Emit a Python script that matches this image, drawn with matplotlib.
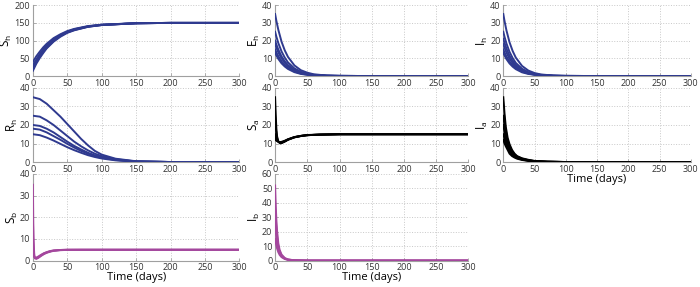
import matplotlib
matplotlib.use("Agg")
import numpy as np
import matplotlib.pyplot as plt

plt.rcParams['font.family'] = ['Open Sans', 'DejaVu Sans']

BLUE = '#2f3a8f'
BLACK = '#000000'
MAGENTA = '#a4479d'

# ---- data ----
sh_t = [0, 5, 10, 15, 20, 30, 40, 50, 60, 80, 100, 150, 200, 300]
sh_vals = [
    [15, 35, 51, 65, 78, 97, 111, 122, 129, 139, 144, 149, 150, 150],
    [20, 39, 55, 69, 80, 99, 113, 123, 130, 139, 144, 149, 150, 150],
    [25, 43, 58, 72, 83, 101, 114, 124, 131, 140, 144, 149, 150, 150],
    [30, 47, 62, 75, 86, 103, 116, 125, 132, 140, 145, 149, 150, 150],
    [40, 56, 69, 81, 91, 107, 118, 127, 133, 141, 145, 149, 150, 150],
]

eh_t = [0, 2, 5, 10, 15, 20, 30, 40, 50, 60, 80, 100, 150, 300]
eh_vals = [
    [35, 31.1, 26.1, 19.4, 14.5, 10.8, 6.0, 3.3, 1.9, 1.0, 0.3, 0.1, 0, 0],
    [25, 22.2, 18.6, 13.9, 10.4, 7.7, 4.3, 2.4, 1.3, 0.7, 0.2, 0.1, 0, 0],
    [20, 17.8, 14.9, 11.1, 8.3, 6.2, 3.4, 1.9, 1.1, 0.6, 0.2, 0.1, 0, 0],
    [18, 16.0, 13.4, 10.0, 7.5, 5.5, 3.1, 1.7, 1.0, 0.5, 0.2, 0.1, 0, 0],
    [15, 13.3, 11.2, 8.3, 6.2, 4.6, 2.6, 1.4, 0.8, 0.4, 0.1, 0, 0, 0],
    [13, 11.6, 9.7, 7.2, 5.4, 4.0, 2.2, 1.2, 0.7, 0.4, 0.1, 0, 0, 0],
]

ih_t = [0, 2, 5, 10, 15, 20, 30, 40, 50, 60, 80, 100, 150, 300]
ih_vals = [
    [35, 31.0, 25.8, 19.0, 14.1, 10.4, 5.7, 3.1, 1.7, 0.9, 0.3, 0.1, 0, 0],
    [25, 22.1, 18.4, 13.6, 10.1, 7.4, 4.1, 2.2, 1.2, 0.7, 0.2, 0.1, 0, 0],
    [21, 18.6, 15.5, 11.4, 8.5, 6.3, 3.4, 1.9, 1.0, 0.6, 0.2, 0.1, 0, 0],
    [18, 16.0, 13.3, 9.8, 7.3, 5.4, 3.0, 1.6, 0.9, 0.5, 0.1, 0, 0, 0],
    [15, 13.3, 11.1, 8.2, 6.1, 4.5, 2.5, 1.4, 0.8, 0.4, 0.1, 0, 0, 0],
    [13, 11.6, 9.6, 7.1, 5.3, 3.9, 2.1, 1.2, 0.7, 0.4, 0.1, 0, 0, 0],
]

rh_t = [0, 10, 20, 30, 40, 50, 60, 70, 80, 90, 100, 120, 150, 200, 300]
rh_vals = [
    [35, 34, 31.5, 28, 24.5, 20.5, 16.5, 12.5, 9, 6, 4, 1.8, 0.4, 0, 0],
    [25, 24.5, 22.5, 20, 17, 14, 11, 8.5, 6.3, 4.5, 3.2, 1.5, 0.3, 0, 0],
    [20, 19.5, 18, 16, 13.5, 11, 8.7, 6.8, 5, 3.6, 2.6, 1.2, 0.3, 0, 0],
    [18, 17.5, 16, 14, 12, 9.8, 7.8, 6, 4.5, 3.2, 2.3, 1.1, 0.2, 0, 0],
    [15, 14.5, 13.2, 11.6, 9.8, 8, 6.4, 5, 3.7, 2.7, 1.9, 0.9, 0.2, 0, 0],
]

sa_t = [0, 1, 2, 3, 5, 8, 10, 15, 20, 30, 40, 50, 70, 100, 150, 300]
sa_vals = [
    [35, 25, 18, 14, 11, 10, 10.2, 11, 12, 13.3, 14, 14.5, 14.8, 15, 15, 15],
    [25, 19, 15, 13, 11, 10.2, 10.4, 11.2, 12.1, 13.4, 14.1, 14.5, 14.8, 15, 15, 15],
    [15, 13, 12, 11.5, 11, 10.5, 10.6, 11.3, 12.2, 13.4, 14.1, 14.5, 14.8, 15, 15, 15],
    [12, 11.8, 11.5, 11.3, 11, 10.8, 10.9, 11.5, 12.3, 13.5, 14.1, 14.6, 14.8, 15, 15, 15],
]

ia_t = [0, 2, 4, 7, 10, 14, 18, 22, 30, 40, 50, 70, 100, 300]
ia_vals = [
    [35, 26, 19, 13, 9.6, 6.5, 4.5, 3.2, 2, 1.2, 0.6, 0.2, 0, 0],
    [25, 19.5, 15, 11, 8.2, 5.8, 4.1, 3, 1.8, 1.0, 0.5, 0.2, 0, 0],
    [20, 16, 12.5, 9.3, 7, 5, 3.6, 2.6, 1.6, 0.9, 0.4, 0.1, 0, 0],
    [15, 12.5, 10, 7.6, 5.8, 4.2, 3, 2.2, 1.3, 0.7, 0.3, 0.1, 0, 0],
    [12, 10, 8.5, 6.5, 4.5, 3.2, 2.4, 1.8, 1.1, 0.6, 0.3, 0.1, 0, 0],
]

sb_t = [0, 0.5, 1, 2, 3, 5, 8, 12, 16, 20, 25, 30, 40, 50, 70, 100, 300]
sb_vals = [
    [35, 18, 9, 2.5, 1, 0.8, 1.3, 2.2, 3, 3.6, 4.1, 4.5, 4.8, 4.95, 5, 5, 5],
    [20, 11, 6, 2, 1.2, 1.1, 1.6, 2.5, 3.3, 3.8, 4.3, 4.6, 4.9, 5, 5, 5, 5],
    [5, 3.5, 2.5, 1.6, 1.4, 1.4, 1.9, 2.7, 3.4, 3.9, 4.4, 4.7, 4.9, 5, 5, 5, 5],
]

ib_t = [0, 1, 2, 3, 5, 7, 10, 15, 20, 30, 50, 300]
ib_vals = [
    [52, 38, 28, 21, 12, 7.5, 4.2, 1.8, 0.8, 0.2, 0, 0],
    [35, 27, 21, 16, 9.5, 6.2, 3.5, 1.5, 0.7, 0.2, 0, 0],
    [25, 20, 16, 12.5, 7.8, 5.1, 3, 1.3, 0.6, 0.2, 0, 0],
    [15, 12.5, 10.5, 8.5, 5.8, 4, 2.4, 1.1, 0.5, 0.1, 0, 0],
]

x_ticks = [0, 50, 100, 150, 200, 250, 300]

# axes boxes in figure fractions (left, bottom, width, height)
col_x = [(0.047, 0.295), (0.393, 0.276), (0.719, 0.268)]
row_y = [(0.735, 0.247), (0.4355, 0.258), (0.092, 0.302)]

panels = [
    # row, col, t, curves, color, ylabel, ymax, ystep, band, xlabel
    (0, 0, sh_t, sh_vals, BLUE, 'S_h', 200, 50, False, False),
    (0, 1, eh_t, eh_vals, BLUE, 'E_h', 40, 10, False, False),
    (0, 2, ih_t, ih_vals, BLUE, 'I_h', 40, 10, False, False),
    (1, 0, rh_t, rh_vals, BLUE, 'R_h', 40, 10, False, False),
    (1, 1, sa_t, sa_vals, BLACK, 'S_a', 40, 10, True, False),
    (1, 2, ia_t, ia_vals, BLACK, 'I_a', 40, 10, True, True),
    (2, 0, sb_t, sb_vals, MAGENTA, 'S_b', 40, 10, True, True),
    (2, 1, ib_t, ib_vals, MAGENTA, 'I_b', 60, 10, True, True),
]

fig = plt.figure(figsize=(7.0, 2.87), dpi=100)

for row, col, t, curves, color, ylab, ymax, ystep, band, xlab in panels:
    l, w = col_x[col]
    b, h = row_y[row]
    ax = fig.add_axes([l, b, w, h])
    arr = np.array(curves, dtype=float)
    if band:
        ax.fill_between(t, arr.min(axis=0), arr.max(axis=0), color=color,
                        linewidth=0, alpha=0.85, zorder=2)
    for c in curves:
        ax.plot(t, c, color=color, lw=1.4, zorder=3)
    ax.set_xlim(0, 300)
    ax.set_ylim(0, ymax)
    ax.set_xticks(x_ticks)
    ax.set_yticks(np.arange(0, ymax + 1, ystep))
    ax.grid(True, linestyle=':', color='#c8c8c8', linewidth=0.7)
    ax.set_axisbelow(True)
    for s in ['top', 'right']:
        ax.spines[s].set_visible(False)
    for s in ['left', 'bottom']:
        ax.spines[s].set_color('#a0a0a0')
        ax.spines[s].set_linewidth(0.8)
    ax.tick_params(axis='both', direction='in', length=2, width=0.6,
                   color='#a0a0a0', labelsize=6.5, labelcolor='#333333', pad=2)
    ax.set_ylabel('$\\mathregular{%s}$' % ylab, fontsize=8.5, labelpad=0)
    if xlab:
        ax.set_xlabel('Time (days)', fontsize=8, labelpad=0)

fig.savefig('out.png', dpi=100)
